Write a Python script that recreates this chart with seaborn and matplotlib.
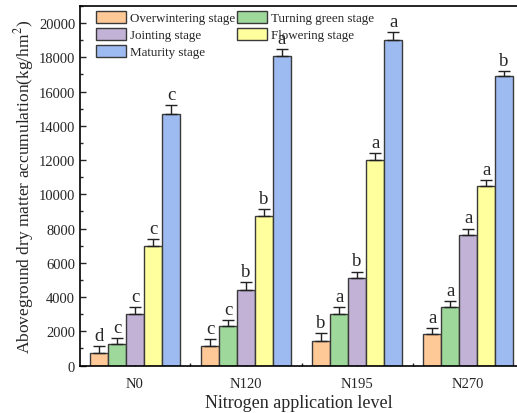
import pandas as pd
import matplotlib.pyplot as plt
import seaborn as sns
import numpy as np
from matplotlib.ticker import MultipleLocator, FixedLocator

# datos
niveles = ['N0', 'N120', 'N195', 'N270']
etapas = ['Overwintering stage', 'Turning green stage', 'Jointing stage',
          'Flowering stage', 'Maturity stage']

overwintering = [750, 1150, 1460, 1830]
turning_green = [1280, 2280, 2980, 3390]
jointing = [3000, 4400, 5090, 7600]
flowering = [7000, 8750, 11990, 10500]
maturity = [14700, 18100, 19000, 16900]

err_overwintering = [400, 400, 450, 350]
err_turning_green = [350, 400, 450, 400]
err_jointing = [400, 450, 400, 400]
err_flowering = [400, 400, 400, 350]
err_maturity = [500, 400, 500, 300]

letras_overwintering = ['d', 'c', 'b', 'a']
letras_turning_green = ['c', 'c', 'a', 'a']
letras_jointing = ['c', 'b', 'b', 'a']
letras_flowering = ['c', 'b', 'a', 'a']
letras_maturity = ['c', 'a', 'a', 'b']

colores = ['#FFC897', '#9ED89A', '#C2B2D6', '#FFFF9E', '#9DBBF0']

valores = [overwintering, turning_green, jointing, flowering, maturity]
errores = [err_overwintering, err_turning_green, err_jointing, err_flowering, err_maturity]
letras = [letras_overwintering, letras_turning_green, letras_jointing, letras_flowering, letras_maturity]

filas = []
for etapa, vals in zip(etapas, valores):
    for nivel, v in zip(niveles, vals):
        filas.append({'level': nivel, 'stage': etapa, 'value': v})
df = pd.DataFrame(filas)

sns.set_theme(style="ticks")
plt.rcParams['font.family'] = ['Liberation Serif', 'DejaVu Serif']
plt.rcParams['mathtext.fontset'] = 'stix'

fig = plt.figure(figsize=(5.17, 4.14), dpi=100)
ax = fig.add_axes([80 / 517, 1 - 366.5 / 414, 437 / 517, 359.5 / 414])

sns.barplot(
    ax=ax, data=df, x='level', y='value', hue='stage',
    order=niveles, hue_order=etapas, palette=colores,
    width=0.81, gap=0, errorbar=None,
    edgecolor='#3a3a3a', linewidth=1.0, saturation=1
)

# barras de error y letras
for cont, errs, lets in zip(ax.containers, errores, letras):
    for barra, e, l in zip(cont, errs, lets):
        xc = barra.get_x() + barra.get_width() / 2
        h = barra.get_height()
        ax.errorbar(xc, h, yerr=[[0], [e]], fmt='none', ecolor='#222222',
                    elinewidth=1, capsize=4, capthick=1)
        ax.text(xc, h + e + 120, l, ha='center', va='bottom', fontsize=13.5)

ax.set_xlim(-0.495, 3.44)
ax.set_ylim(0, 21000)
ax.yaxis.set_major_locator(MultipleLocator(2000))
ax.yaxis.set_minor_locator(MultipleLocator(1000))
ax.xaxis.set_minor_locator(FixedLocator([0.5, 1.5, 2.5]))
ax.tick_params(axis='both', which='both', direction='in', labelsize=10.5)
ax.tick_params(axis='both', which='major', length=4, width=1)
ax.tick_params(axis='both', which='minor', length=2.5, width=1)
ax.tick_params(axis='x', which='major', pad=8)

for lado in ['left', 'bottom', 'top']:
    ax.spines[lado].set_linewidth(1.2)
    ax.spines[lado].set_color('black')
ax.spines['right'].set_visible(False)

ax.set_xlabel('Nitrogen application level', fontsize=13, labelpad=3)
ax.set_ylabel('Aboveground dry matter accumulation(kg/hm$^2$)', fontsize=12.5, labelpad=2)

# leyenda ordenada por filas como en el original
handles, labels = ax.get_legend_handles_labels()
orden = [0, 2, 4, 1, 3]
ax.legend(
    [handles[i] for i in orden], [labels[i] for i in orden],
    loc='upper left', bbox_to_anchor=(0.018, 1.008), ncol=2, frameon=False,
    fontsize=9.4, handlelength=2.3, handleheight=1.05, columnspacing=0.15,
    handletextpad=0.3, labelspacing=0.25, borderaxespad=0.2
)

plt.savefig('out.png', dpi=100)
plt.close()
